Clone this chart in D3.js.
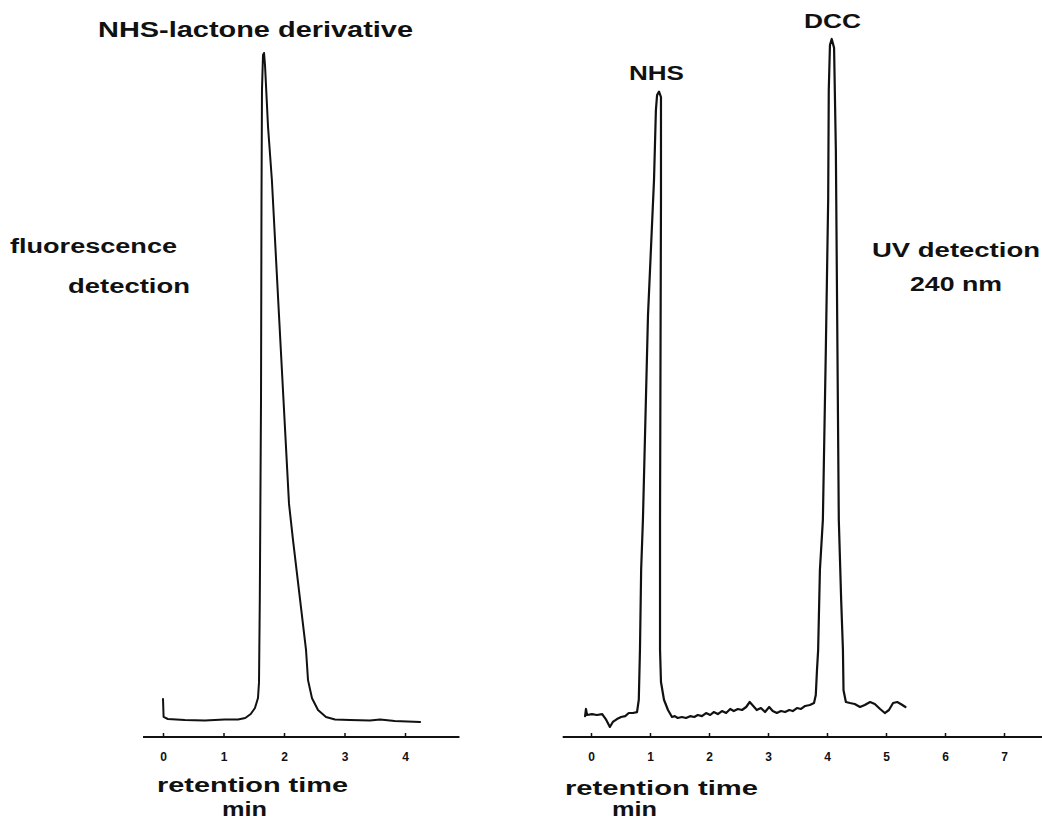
<!DOCTYPE html>
<html>
<head>
<meta charset="utf-8">
<script src="https://cdn.jsdelivr.net/npm/d3@7"></script>
<style>
  body { margin: 0; background: #fff; }
  svg { display: block; }
  .lbl { font-family: "Liberation Sans", Arial, sans-serif; font-weight: bold; fill: #111; }
  .tick text { font-family: "Liberation Sans", Arial, sans-serif; font-weight: bold; font-size: 12px; fill: #111; }
  .tick line { stroke: #111; stroke-width: 1.5; }
</style>
</head>
<body>
<svg id="chart" width="1042" height="823"></svg>
<script>
// fluorescence trace: retention time (min), signal (relative)
var fluoTime = [0, 0.01, 0.08, 0.36, 0.69, 1.02, 1.24, 1.36, 1.45, 1.52, 1.57, 1.587, 1.60, 1.62, 1.628, 1.636, 1.653, 1.67,
  1.686, 1.736, 1.80, 1.917, 2.083, 2.149, 2.364, 2.397, 2.463, 2.562, 2.694, 2.843, 3.09, 3.42, 3.59, 3.83, 4.25];
var fluoSignal = [3.6, 0.9, 0.6, 0.45, 0.37, 0.52, 0.52, 0.75, 1.34, 2.24, 3.73, 6.1, 18.4, 48.2, 78, 94.5, 99.7, 100,
  98.2, 89, 81, 60.9, 32.7, 27.3, 10.9, 6.4, 3.7, 1.94, 0.9, 0.52, 0.45, 0.37, 0.52, 0.3, 0.15];

// UV trace (240 nm)
var uvTime = [-0.10, -0.085, -0.068, 0.017, 0.10, 0.19, 0.25, 0.32, 0.37, 0.44, 0.51, 0.58, 0.64, 0.71, 0.78,
  0.81, 0.83, 0.85, 0.88, 0.966, 1.068, 1.10, 1.12, 1.153, 1.186, 1.186, 1.17, 1.17, 1.186, 1.237, 1.305, 1.373,
  1.42, 1.47, 1.54, 1.61, 1.68, 1.75, 1.81, 1.88, 1.95, 2.02, 2.08, 2.15, 2.22, 2.29, 2.36, 2.42, 2.49, 2.56,
  2.63, 2.69, 2.75, 2.81, 2.88, 2.95, 3.02, 3.08, 3.15, 3.22, 3.29, 3.36, 3.42, 3.49, 3.56, 3.63, 3.71, 3.78,
  3.81, 3.83, 3.85, 3.88, 3.93, 3.98, 4.02, 4.03, 4.05, 4.08, 4.12, 4.15, 4.20, 4.24, 4.27, 4.28, 4.32, 4.39,
  4.47, 4.56, 4.64, 4.73, 4.81, 4.90, 4.98, 5.05, 5.12, 5.19, 5.25, 5.33];
var uvSignal = [1.0, 2.05, 1.17, 1.3, 1.17, 1.3, 0.58, -0.58, 0.15, 0.58, 0.88, 1.0, 1.46, 1.46, 1.6,
  3.4, 10.7, 22.4, 29.7, 59.6, 79.4, 89.6, 91.8, 92.3, 91.5, 76.5, 29.7, 10.7, 6.0, 3.4, 1.9, 0.88,
  1.0, 0.73, 0.88, 0.73, 1.0, 0.88, 1.17, 1.0, 1.46, 1.17, 1.6, 1.3, 1.75, 1.46, 2.05, 1.75, 2.05, 1.9,
  2.34, 3.07, 2.49, 1.9, 2.19, 1.6, 2.34, 1.75, 1.46, 1.75, 1.6, 1.9, 1.75, 2.19, 2.05, 2.49, 2.63, 2.92,
  4.1, 7.7, 10.7, 22.4, 29.7, 54.5, 76.5, 92.5, 99.1, 100, 98.7, 83.8, 29.7, 18, 10.7, 4.8, 3.07, 2.92,
  2.78, 2.34, 2.63, 3.07, 2.78, 2.05, 1.46, 1.9, 2.92, 3.07, 2.78, 2.34];

var fluoTicks = [0, 1, 2, 3, 4];
var uvTicks = [0, 1, 2, 3, 4, 5, 6, 7];

var svg = d3.select("#chart");

var xL = d3.scaleLinear().domain([0, 4]).range([163, 405]);
var yL = d3.scaleLinear().domain([0, 100]).range([723, 53]);
var xR = d3.scaleLinear().domain([0, 7]).range([591, 1004]);
var yR = d3.scaleLinear().domain([0, 100]).range([723, 39]);
var axisY = 737;

function drawAxis(x, ticks, from, to) {
  var g = svg.append("g").attr("transform", "translate(0," + axisY + ")");
  g.append("line")
    .attr("x1", x(from)).attr("x2", x(to))
    .attr("stroke", "#111").attr("stroke-width", 1.8);
  g.call(d3.axisBottom(x).tickValues(ticks).tickFormat(d3.format("d")).tickSize(-4).tickPadding(15));
  g.select(".domain").remove();
}
drawAxis(xL, fluoTicks, -0.33, 4.9);
drawAxis(xR, uvTicks, -0.48, 7.7);

// traces
var lineL = d3.line().x(function(d, i) { return xL(fluoTime[i]); }).y(function(d) { return yL(d); });
var lineR = d3.line().x(function(d, i) { return xR(uvTime[i]); }).y(function(d) { return yR(d); });

svg.append("path").attr("d", lineL(fluoSignal))
  .attr("fill", "none").attr("stroke", "#111").attr("stroke-width", 2)
  .attr("stroke-linejoin", "round").attr("stroke-linecap", "round");
svg.append("path").attr("d", lineR(uvSignal))
  .attr("fill", "none").attr("stroke", "#111").attr("stroke-width", 2.2)
  .attr("stroke-linejoin", "round").attr("stroke-linecap", "round");

// labels
function label(txt, x, y, size, len) {
  svg.append("text").attr("class", "lbl")
    .attr("x", x).attr("y", y)
    .style("font-size", size + "px")
    .attr("textLength", len).attr("lengthAdjust", "spacingAndGlyphs")
    .text(txt);
}
label("NHS-lactone derivative", 98, 37, 22, 315);
label("fluorescence", 10, 253, 20, 167);
label("detection", 68, 293, 20, 122);
label("UV detection", 872, 257, 20, 168);
label("240 nm", 910, 291, 20, 92);
label("NHS", 629, 80, 20, 55);
label("DCC", 804, 28, 20, 57);
label("retention time", 157, 792, 20, 191);
label("min", 222, 816, 20, 45);
label("retention time", 565, 795, 20, 193);
label("min", 612, 816, 20, 45);
</script>
</body>
</html>
